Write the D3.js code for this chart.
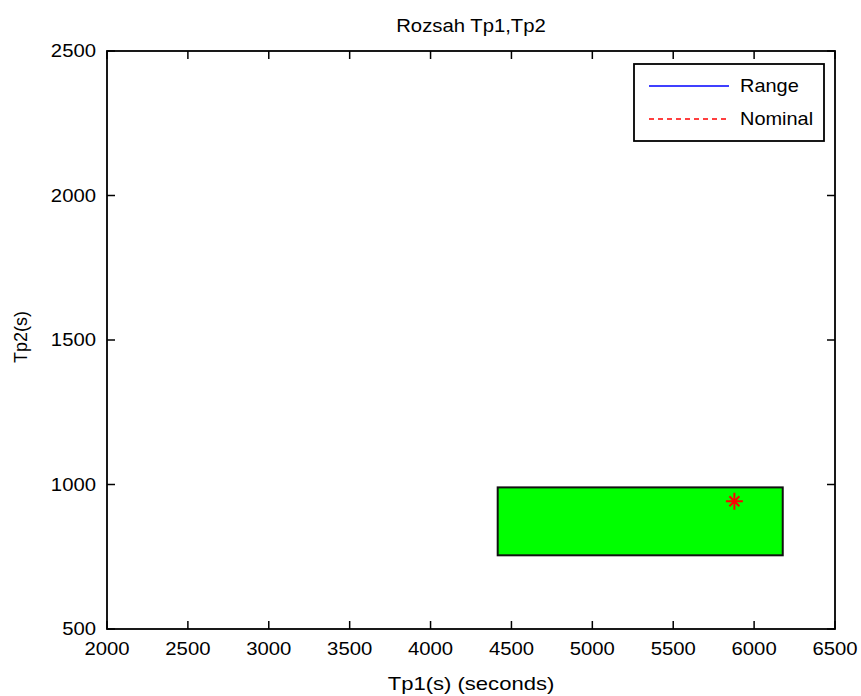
<!DOCTYPE html>
<html>
<head>
<meta charset="utf-8">
<script src="https://cdn.jsdelivr.net/npm/d3@7"></script>
<style>
  html, body { margin: 0; padding: 0; background: #fff; }
  svg { display: block; }
  text { font-family: "Liberation Sans", Arial, sans-serif; fill: #000; }
</style>
</head>
<body>
<svg id="chart" width="861" height="696"></svg>
<script>
// ---- data ----
const titleText = "Rozsah Tp1,Tp2";
const xLabelText = "Tp1(s) (seconds)";
const yLabelText = "Tp2(s)";
const xDomain = [2000, 6500];
const yDomain = [500, 2500];
const xTicks = [2000, 2500, 3000, 3500, 4000, 4500, 5000, 5500, 6000, 6500];
const yTicks = [500, 1000, 1500, 2000, 2500];
const rangeTp1 = [4415, 6177];
const rangeTp2 = [755, 990];
const nominalTp1 = [5878];
const nominalTp2 = [942];
const legendLabels = ["Range", "Nominal"];
const legendColors = ["#0000ff", "#ff0000"];
const legendDash = [null, "5,4"];

// ---- layout ----
const svg = d3.select("#chart");
const L = 107, R = 835, T = 51, B = 629;
const SX = 1.16; // horizontal text stretch
const x = d3.scaleLinear().domain(xDomain).range([L, R]);
const y = d3.scaleLinear().domain(yDomain).range([B, T]);

function stext(sel, tx, ty, str, size, anchor, baseline, sx) {
  return sel.append("text")
    .attr("transform", `translate(${tx},${ty}) scale(${sx || SX},1)`)
    .attr("font-size", size)
    .attr("text-anchor", anchor)
    .attr("dominant-baseline", baseline)
    .text(str);
}

// range rectangle
svg.append("rect")
  .attr("x", x(rangeTp1[0]))
  .attr("y", y(rangeTp2[1]))
  .attr("width", x(rangeTp1[1]) - x(rangeTp1[0]))
  .attr("height", y(rangeTp2[0]) - y(rangeTp2[1]))
  .attr("fill", "#00ff00")
  .attr("stroke", "#111")
  .attr("stroke-width", 2);

// nominal asterisk marker
nominalTp1.forEach((v, i) => {
  const cx = x(v), cy = y(nominalTp2[i]);
  const g = svg.append("g").attr("stroke", "#ff0000").attr("stroke-width", 2);
  const a = 8.5, d = 5;
  g.append("line").attr("x1", cx - a).attr("x2", cx + a).attr("y1", cy).attr("y2", cy);
  g.append("line").attr("x1", cx).attr("x2", cx).attr("y1", cy - a).attr("y2", cy + a);
  g.append("line").attr("x1", cx - d).attr("x2", cx + d).attr("y1", cy - d).attr("y2", cy + d);
  g.append("line").attr("x1", cx - d).attr("x2", cx + d).attr("y1", cy + d).attr("y2", cy - d);
  g.append("circle").attr("cx", cx).attr("cy", cy).attr("r", 2.5).attr("fill", "#ff0000").attr("stroke", "none");
});

// axes (box with inward ticks on all sides)
const tickLen = 8;
const axG = svg.append("g").attr("stroke", "#000").attr("stroke-width", 1.5);
xTicks.forEach(v => {
  axG.append("line").attr("x1", x(v)).attr("x2", x(v)).attr("y1", B).attr("y2", B - tickLen);
  axG.append("line").attr("x1", x(v)).attr("x2", x(v)).attr("y1", T).attr("y2", T + tickLen);
});
yTicks.forEach(v => {
  axG.append("line").attr("x1", L).attr("x2", L + tickLen).attr("y1", y(v)).attr("y2", y(v));
  axG.append("line").attr("x1", R).attr("x2", R - tickLen).attr("y1", y(v)).attr("y2", y(v));
});
svg.append("rect")
  .attr("x", L).attr("y", T).attr("width", R - L).attr("height", B - T)
  .attr("fill", "none").attr("stroke", "#000").attr("stroke-width", 1.8);

// tick labels
xTicks.forEach(v => stext(svg, x(v), 649, String(v), 17.5, "middle", "central"));
yTicks.forEach(v => stext(svg, L - 11, y(v), String(v), 17.5, "end", "central"));

// title and axis labels
stext(svg, (L + R) / 2, 32, titleText, 17.5, "middle", "alphabetic");
stext(svg, (L + R) / 2, 690, xLabelText, 19, "middle", "alphabetic");
svg.append("text")
  .attr("transform", `translate(27,337) rotate(-90)`)
  .attr("font-size", 18)
  .attr("text-anchor", "middle")
  .text(yLabelText);

// legend
const lg = svg.append("g");
lg.append("rect").attr("x", 634).attr("y", 64).attr("width", 190).attr("height", 77)
  .attr("fill", "#fff").attr("stroke", "#000").attr("stroke-width", 1.8);
legendLabels.forEach((lab, i) => {
  const ly = 86 + i * 33;
  lg.append("line").attr("x1", 649).attr("x2", 729).attr("y1", ly).attr("y2", ly)
    .attr("stroke", legendColors[i]).attr("stroke-width", 1.5)
    .attr("stroke-dasharray", legendDash[i]);
  stext(lg, 740, ly, lab, 17.5, "start", "central", 1.14);
});
</script>
</body>
</html>
